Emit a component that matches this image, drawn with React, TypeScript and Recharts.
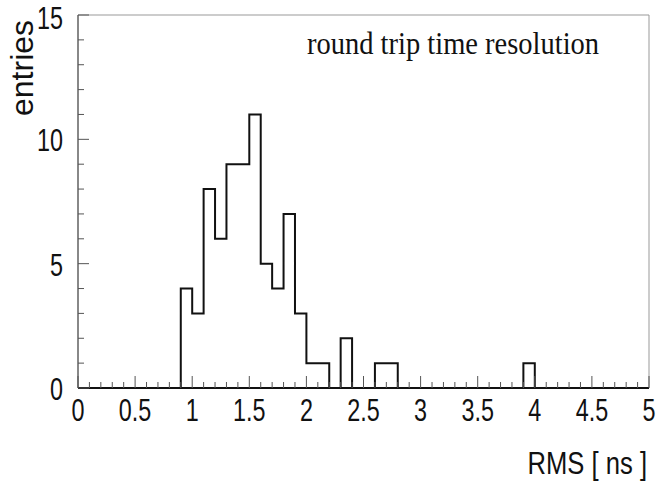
import React from 'react';
import { ComposedChart, Line, XAxis, YAxis, ReferenceArea } from 'recharts';

// non-empty bins (lower edge, 0.1 ns wide) and their entries
const binLows = [0.9, 1.0, 1.1, 1.2, 1.3, 1.4, 1.5, 1.6, 1.7, 1.8, 1.9, 2.0, 2.1, 2.3, 2.6, 2.7, 3.9];
const counts = [4, 3, 8, 6, 9, 9, 11, 5, 4, 7, 3, 1, 1, 2, 1, 1, 1];

const xTicks = Array.from({ length: 51 }, (_, i) => i / 10);
const yTicks = Array.from({ length: 16 }, (_, i) => i);

const nBins = 50;
const histData = Array.from({ length: nBins + 1 }, (_, i) => {
  const idx = binLows.findIndex(b => Math.round(b * 10) === i);
  return { x: i / 10, y: idx >= 0 ? counts[idx] : 0 };
});

const SQUEEZE = 0.73;
const tickColor = '#555';
const sans = 'Liberation Sans, Arial, sans-serif';

const XTick = ({ x, y, payload }: any) => {
  const v = payload.value;
  const k = Math.round(v * 10);
  const major = k % 5 === 0;
  return (
    <g>
      <line x1={x} x2={x} y1={y} y2={y - (major ? 12 : 6)} stroke={tickColor} strokeWidth={1} />
      {major && (
        <g transform={`translate(${x},${y + 33}) scale(${SQUEEZE},1)`}>
          <text textAnchor="middle" fontSize={32} fontFamily={sans} fill="#111">
            {String(k / 10)}
          </text>
        </g>
      )}
    </g>
  );
};

const YTick = ({ x, y, payload }: any) => {
  const v = payload.value;
  const major = v % 5 === 0;
  // keep the top label inside the page
  const base = Math.max(y + 12, 29);
  return (
    <g>
      <line x1={x} x2={x + (major ? 11 : 6)} y1={y} y2={y} stroke={tickColor} strokeWidth={1} />
      {major && (
        <g transform={`translate(${x - 15},${base}) scale(${SQUEEZE},1)`}>
          <text textAnchor="end" fontSize={32} fontFamily={sans} fill="#111">
            {v}
          </text>
        </g>
      )}
    </g>
  );
};

export default function App() {
  return (
    <div style={{ position: 'absolute', left: 0, top: 0, width: 671, height: 491, background: '#fff' }}>
      <ComposedChart width={671} height={491} data={histData} margin={{ top: 15, right: 22, left: 0, bottom: 0 }}>
        <ReferenceArea x1={0} x2={5} y1={0} y2={15} fill="none" stroke="#999" strokeWidth={1} ifOverflow="visible" />
        <XAxis
          dataKey="x"
          type="number"
          domain={[0, 5]}
          ticks={xTicks}
          interval={0}
          height={103}
          tickSize={0}
          tickMargin={0}
          tickLine={false}
          tick={<XTick />}
          axisLine={{ stroke: '#111', strokeWidth: 2 }}
        />
        <YAxis
          type="number"
          domain={[0, 15]}
          ticks={yTicks}
          interval={0}
          width={78}
          tickSize={0}
          tickMargin={0}
          tickLine={false}
          tick={<YTick />}
          axisLine={{ stroke: '#444', strokeWidth: 1 }}
        />
        <Line
          dataKey="y"
          type="stepAfter"
          stroke="#111"
          strokeWidth={2}
          dot={false}
          isAnimationActive={false}
        />
      </ComposedChart>
      <svg width={671} height={491} style={{ position: 'absolute', left: 0, top: 0, pointerEvents: 'none' }}>
        <g transform="translate(307,54) scale(0.92,1)">
          <text fontSize={31} fontFamily="Liberation Serif, Times New Roman, serif" fill="#111">
            round trip time resolution
          </text>
        </g>
        <text
          transform="translate(33,116) rotate(-90)"
          fontSize={32}
          fontFamily={sans}
          fill="#111"
        >
          entries
        </text>
        <g transform="translate(647,474) scale(0.8,1)">
          <text textAnchor="end" fontSize={32} fontFamily={sans} fill="#111">
            RMS [ ns ]
          </text>
        </g>
      </svg>
    </div>
  );
}
